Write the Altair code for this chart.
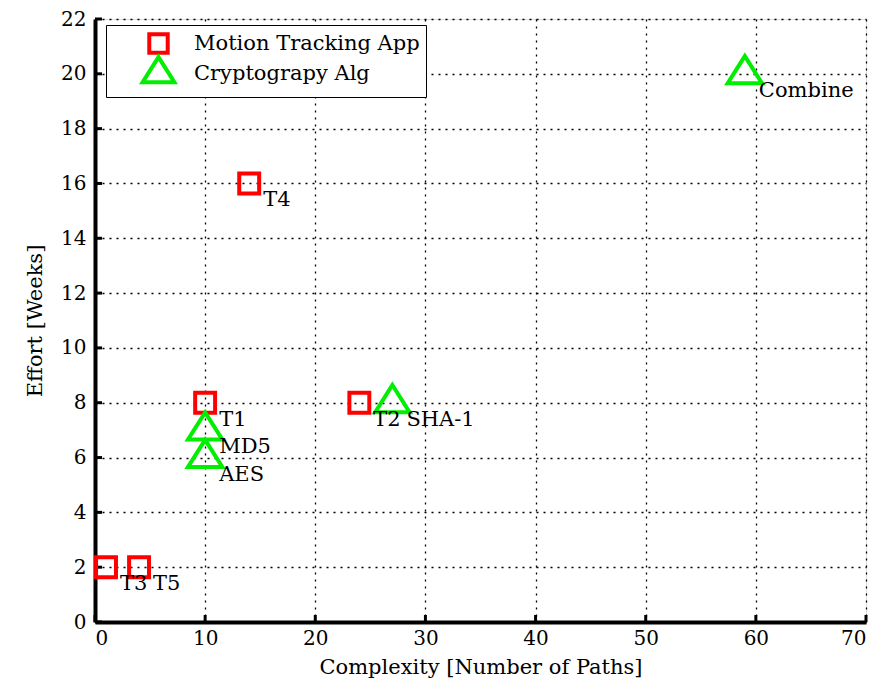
import altair as alt
import pandas as pd

# data
motion_names = ["T1", "T2", "T3", "T4", "T5"]
motion_x = [10, 24, 1, 14, 4]
motion_y = [8, 8, 2, 16, 2]

crypto_names = ["MD5", "AES", "SHA-1", "Combine"]
crypto_x = [10, 10, 27, 59]
crypto_y = [7, 6, 8, 20]

series = ["Motion Tracking App", "Cryptograpy Alg"]
x_ticks = [0, 10, 20, 30, 40, 50, 60, 70]
y_ticks = list(range(0, 23, 2))

rows = []
for n, x, y in zip(motion_names, motion_x, motion_y):
    rows.append({"name": n, "x": x, "y": y, "series": series[0]})
for n, x, y in zip(crypto_names, crypto_x, crypto_y):
    rows.append({"name": n, "x": x, "y": y, "series": series[1]})
df = pd.DataFrame(rows)

FONT = "DejaVu Serif"
FS = 21
LFS = 20
W, H = 771, 603

SQUARE = "M-0.9,-0.9L0.9,-0.9L0.9,0.9L-0.9,0.9Z"
TRIANGLE = "M0,-1.6L1.55,0.85L-1.55,0.85Z"

xs = alt.Scale(domain=[0, 70], nice=False)
ys = alt.Scale(domain=[0, 22], nice=False)

xaxis = alt.Axis(values=x_ticks, grid=True, gridDash=[2, 5], gridColor="black", gridOpacity=1,
                 gridWidth=1.3, domainWidth=4, domainColor="black", tickSize=0,
                 labelFont=FONT, labelFontSize=LFS, labelColor="black", labelPadding=6,
                 title="Complexity [Number of Paths]", titleFont=FONT, titleFontSize=FS,
                 titleFontWeight="normal", titleColor="black", titlePadding=8)
yaxis = alt.Axis(values=y_ticks, grid=True, gridDash=[2, 5], gridColor="black", gridOpacity=1,
                 gridWidth=1.3, domainWidth=4, domainColor="black", tickSize=0,
                 labelFont=FONT, labelFontSize=LFS, labelColor="black", labelPadding=9,
                 title="Effort [Weeks]", titleFont=FONT, titleFontSize=FS,
                 titleFontWeight="normal", titleColor="black", titlePadding=15)

base = alt.Chart(df)

points = base.mark_point(filled=False, strokeWidth=4, opacity=1, size=490).encode(
    x=alt.X("x:Q", scale=xs, axis=xaxis),
    y=alt.Y("y:Q", scale=ys, axis=yaxis),
    color=alt.Color("series:N", scale=alt.Scale(domain=series, range=["#ff0000", "#00ee00"]),
                    legend=alt.Legend(orient="none", legendX=11, legendY=6, title=None,
                                      strokeColor="black", fillColor="white",
                                      padding=6, rowPadding=-20,
                                      labelFont=FONT, labelFontSize=FS, labelColor="black",
                                      labelOffset=23, symbolStrokeWidth=4, symbolSize=420,
                                      symbolOffset=34, labelLimit=400)),
    shape=alt.Shape("series:N", scale=alt.Scale(domain=series, range=[SQUARE, TRIANGLE])),
)

labels = base.mark_text(align="left", baseline="top", dx=14, dy=6, font=FONT,
                        fontSize=FS, color="black").encode(
    x=alt.X("x:Q", scale=xs), y=alt.Y("y:Q", scale=ys), text="name:N")

xt = pd.DataFrame({"t": x_ticks})
yt = pd.DataFrame({"t": y_ticks})
xtick = alt.Chart(xt).mark_rule(color="black", strokeWidth=3).encode(
    x=alt.X("t:Q", scale=xs), y=alt.value(H), y2=alt.value(H - 7))
ytick = alt.Chart(yt).mark_rule(color="black", strokeWidth=3).encode(
    y=alt.Y("t:Q", scale=ys), x=alt.value(0), x2=alt.value(7))

chart = alt.layer(xtick, ytick, points, labels).properties(
    width=W, height=H,
    autosize=alt.AutoSizeParams(type="none"),
    padding={"left": 87, "top": 11, "right": 8, "bottom": 60},
).configure_view(stroke=None).configure(background="white")

chart.save("out.html", embed_options={"renderer": "svg", "actions": False})
